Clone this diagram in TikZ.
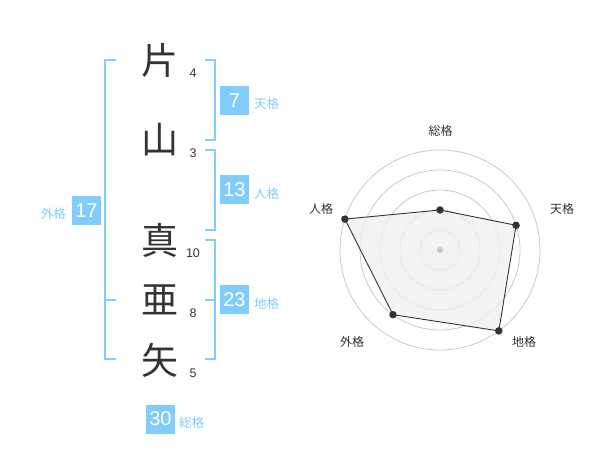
\documentclass[tikz,border=0pt]{standalone}
\usepackage{fontspec}
\setmainfont{Liberation Sans}
\newfontfamily\cjk{Noto Sans CJK JP}
\definecolor{sky}{RGB}{128,204,250}
\definecolor{ink}{RGB}{51,51,51}
\definecolor{ring}{RGB}{200,200,200}
\definecolor{area}{RGB}{240,240,240}
\begin{document}
\begin{tikzpicture}[x=1pt,y=-1pt,
  kanji/.style={font=\cjk\fontsize{37}{37}\selectfont, text=ink, inner sep=0},
  strokes/.style={font=\fontsize{12.5}{12.5}\selectfont, text=ink, inner sep=0},
  valbox/.style={fill=sky, text=white, minimum width=29, minimum height=29, inner sep=0, font=\fontsize{20}{20}\selectfont},
  kaku/.style={font=\cjk\fontsize{12.5}{12.5}\selectfont, text=sky, inner sep=0},
  brk/.style={draw=sky, line width=1.6},
  axislbl/.style={font=\cjk\fontsize{12}{12}\selectfont, text=ink, inner sep=0},
  dot/.style={circle, fill=ink, inner sep=0, minimum size=7.5}]
\useasboundingbox (0,0) rectangle (600,470);
% characters
\node[kanji] (c1) at (160,60) {片};
\node[kanji] (c2) at (160,140) {山};
\node[kanji] (c3) at (160,240) {真};
\node[kanji] (c4) at (160,300) {亜};
\node[kanji] (c5) at (160,360) {矢};
\node[strokes] (n1) at (193,73) {4};
\node[strokes] (n2) at (193,153) {3};
\node[strokes] (n3) at (193,253) {10};
\node[strokes] (n4) at (193,313) {8};
\node[strokes] (n5) at (193,373) {5};
% brackets
\coordinate (a1) at (205,60); \coordinate (a2) at (215,60);
\coordinate (a3) at (215,140); \coordinate (a4) at (205,140);
\draw[brk] (a1) -- (a2) -- (a3) -- (a4);
\coordinate (b1) at (205,150); \coordinate (b2) at (215,150);
\coordinate (b3) at (215,230); \coordinate (b4) at (205,230);
\draw[brk] (b1) -- (b2) -- (b3) -- (b4);
\coordinate (d1) at (205,240); \coordinate (d2) at (215,240);
\coordinate (d3) at (215,359); \coordinate (d4) at (205,359);
\coordinate (d5) at (205,300); \coordinate (d6) at (215,300);
\draw[brk] (d1) -- (d2) -- (d3) -- (d4);
\draw[brk] (d5) -- (d6);
\coordinate (g1) at (116,60); \coordinate (g2) at (105,60);
\coordinate (g3) at (105,359); \coordinate (g4) at (116,359);
\coordinate (g5) at (105,300); \coordinate (g6) at (116,300);
\draw[brk] (g1) -- (g2) -- (g3) -- (g4);
\draw[brk] (g5) -- (g6);
% values
\node[valbox] (v1) at (234.5,100.5) {7};
\node[kaku, anchor=west] (l1) at (254,104) {天格};
\node[valbox] (v2) at (234.5,190) {13};
\node[kaku, anchor=west] (l2) at (254,194) {人格};
\node[valbox] (v3) at (86.5,210.5) {17};
\node[kaku, anchor=east] (l3) at (66,214) {外格};
\node[valbox] (v4) at (234.5,300) {23};
\node[kaku, anchor=west] (l4) at (254,304) {地格};
\node[valbox] (v5) at (160.5,419) {30};
\node[kaku, anchor=west] (l5) at (179,423) {総格};
% radar
\coordinate (o) at (440,250);
\foreach \r in {20,40,60,80,100} \draw[ring, line width=0.8] (o) circle (\r);
\coordinate (p1) at (440,210);
\coordinate (p2) at (516.1,225.3);
\coordinate (p3) at (498.8,330.9);
\coordinate (p4) at (393.0,314.7);
\coordinate (p5) at (344.9,219.1);
\draw[fill=area, fill opacity=0.8, draw=ink, line width=0.9] (p1) -- (p2) -- (p3) -- (p4) -- (p5) -- cycle;
\node[circle, fill=ring, inner sep=0, minimum size=6] (oc) at (o) {};
\foreach \p in {p1,p2,p3,p4,p5} \node[dot] at (\p) {};
\node[axislbl] (t1) at (440.7,131) {総格};
\node[axislbl] (t2) at (562,209) {天格};
\node[axislbl] (t3) at (524,342) {地格};
\node[axislbl] (t4) at (352,342) {外格};
\node[axislbl] (t5) at (321,209) {人格};
\end{tikzpicture}
\end{document}
